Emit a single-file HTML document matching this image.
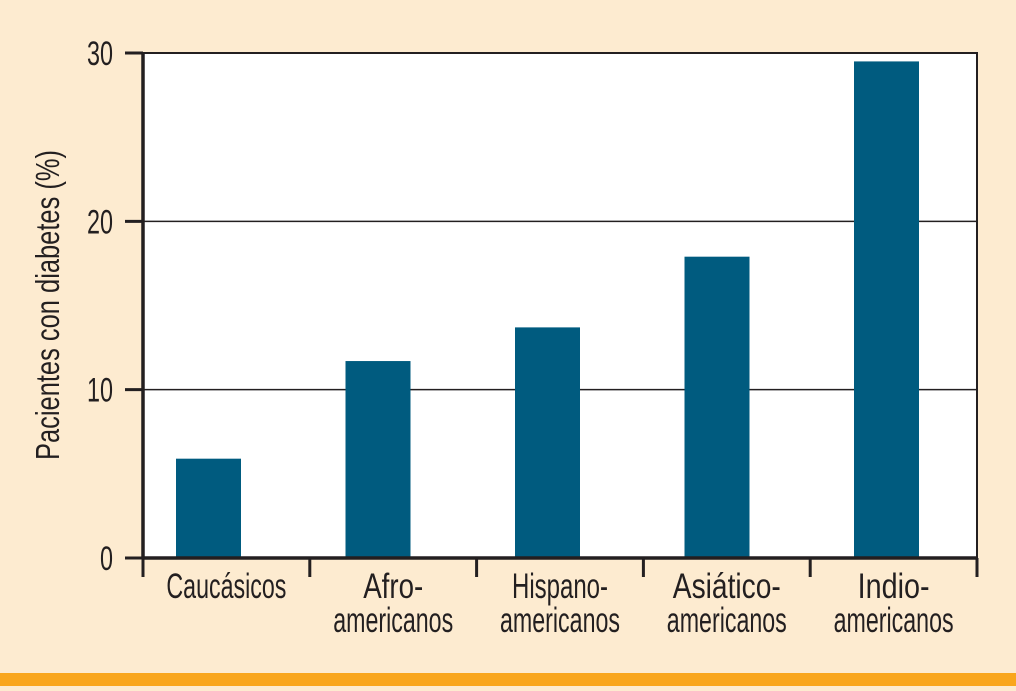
<!DOCTYPE html>
<html><head><meta charset="utf-8"><style>
body{margin:0;background:#fdebd0;width:1016px;height:686px;overflow:hidden}
svg text{font-family:"Liberation Sans",sans-serif;fill:#231f20}
</style></head><body>
<svg width="1016" height="686">
<rect x="0" y="673" width="1016" height="13" fill="#f9a61d"/>
<rect x="143" y="53" width="834" height="505" fill="#fff"/>
<g id="grid"></g><g id="bars"></g><g id="axes"></g>
<text transform="translate(59,305) rotate(-90)" font-size="33" text-anchor="middle" textLength="310" lengthAdjust="spacingAndGlyphs">Pacientes con diabetes (%)</text>
</svg>
<script>
const categories=[["Caucásicos"],["Afro-","americanos"],["Hispano-","americanos"],["Asiático-","americanos"],["Indio-","americanos"]];
const values=[5.9,11.7,13.7,17.9,29.5];
const yTicks=[0,10,20,30];
const NS="http://www.w3.org/2000/svg";
const x0=143,x1=977,yb=558,yt=53,ymax=30;
const y=v=>yb-(v/ymax)*(yb-yt);
const bw=(x1-x0)/categories.length;
const barX=i=>176+i*169.5;
function mk(tag,attrs,parent,txt){const e=document.createElementNS(NS,tag);for(const k in attrs)e.setAttribute(k,attrs[k]);if(txt!==undefined)e.textContent=txt;document.getElementById(parent).appendChild(e);return e;}
yTicks.forEach(t=>{
 if(t>0&&t<ymax){const g=mk('line',{x1:x0,x2:x1,y1:y(t),y2:y(t),stroke:'#231f20','stroke-width':1.5},'grid');
 
 }
 const tk=mk('line',{x1:125,x2:x0,y1:y(t),y2:y(t),stroke:'#231f20','stroke-width':3},'axes');
 
 
 const lb=mk('text',{x:113,y:y(t)+12,'font-size':34,'text-anchor':'end',textLength:String(t).length*13,lengthAdjust:'spacingAndGlyphs'},'axes',String(t));
 
 
});
values.forEach((v,i)=>{
 const cx=x0+bw*(i+0.5);
 const r=mk('rect',{x:barX(i),y:y(v),width:65,height:yb-y(v),fill:'#005b7f'},'bars');
 
 
 categories[i].forEach((s,j)=>{
  const t=mk('text',{x:cx,y:598+j*34,'font-size':35,'text-anchor':'middle',textLength:s.length*12,lengthAdjust:'spacingAndGlyphs'},'axes',s);
  
  
 });
});
for(let i=0;i<=categories.length;i++){
 const xx=x0+bw*i;
 const t=mk('line',{x1:xx,x2:xx,y1:yb,y2:577,stroke:'#231f20','stroke-width':3},'axes');
 
 
}
const a=mk('path',{d:`M${x0},${yt} L${x1},${yt} L${x1},${yb} L${x0},${yb} Z`,fill:'none',stroke:'#231f20','stroke-width':2},'axes');


const xa=mk('line',{x1:x0,x2:x1,y1:yb,y2:yb,stroke:'#231f20','stroke-width':3.5},'axes');


const ya=mk('line',{x1:x0,x2:x0,y1:yt,y2:yb,stroke:'#231f20','stroke-width':3.5},'axes');


</script>
</body></html>
